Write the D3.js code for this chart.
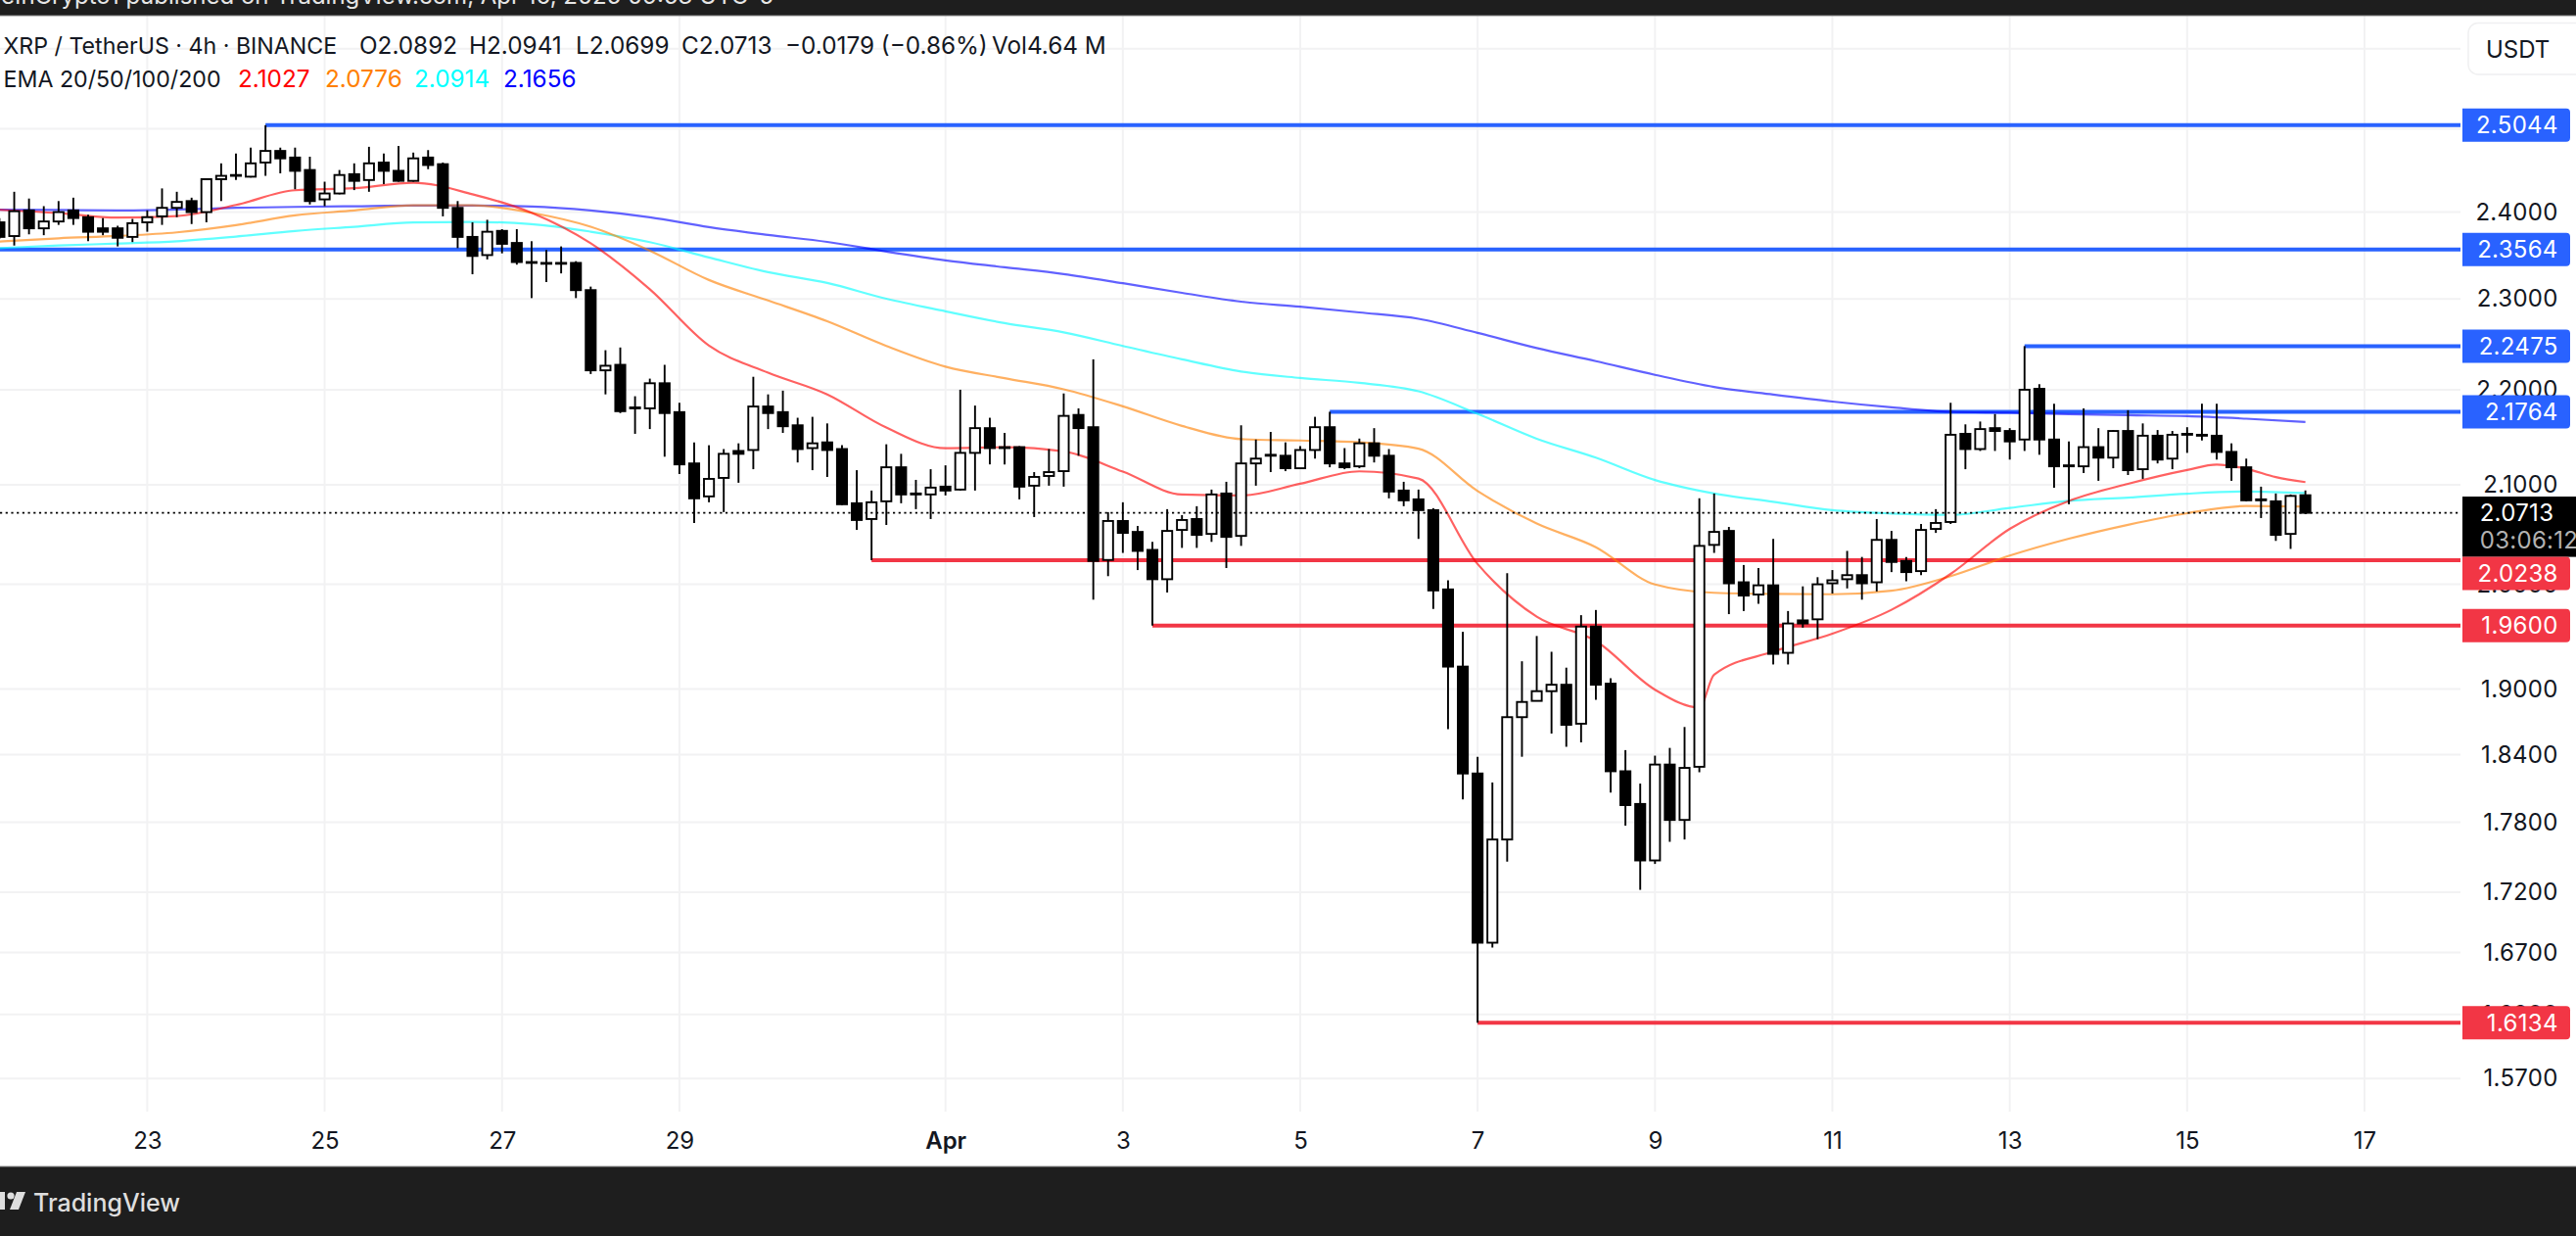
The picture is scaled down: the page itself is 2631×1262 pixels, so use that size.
<!DOCTYPE html>
<html><head><meta charset="utf-8">
<script src="https://cdn.jsdelivr.net/npm/d3@7"></script>
<style>html,body{margin:0;padding:0;background:#fff;overflow:hidden}svg{display:block}text{font-family:Inter,"Noto Sans",sans-serif}</style>
</head><body><div id="c"></div>
<script>
// ---------- data ----------
const firstBar = -10;          // bar index relative to 23 March 00:00 (4h bars)
const open = [2.388,2.372,2.402,2.381,2.389,2.402,2.394,2.381,2.381,2.371,
2.388,2.395,2.405,2.413,2.400,2.439,2.444,2.442,2.459,2.473,
2.465,2.450,2.415,2.422,2.445,2.438,2.459,2.449,2.437,2.465,
2.457,2.405,2.371,2.350,2.378,2.364,2.342,2.341,2.341,2.341,
2.310,2.221,2.227,2.181,2.180,2.207,2.176,2.122,2.088,2.107,
2.135,2.136,2.182,2.176,2.162,2.138,2.144,2.137,2.081,2.065,
2.083,2.118,2.091,2.090,2.098,2.095,2.133,2.159,2.139,2.139,
2.099,2.109,2.114,2.173,2.160,2.024,2.063,2.052,2.034,2.005,
2.054,2.065,2.050,2.091,2.048,2.122,2.131,2.130,2.117,2.136,
2.160,2.122,2.119,2.143,2.130,2.094,2.085,2.074,1.995,1.921,
1.823,1.678,1.765,1.874,1.889,1.898,1.904,1.868,1.959,1.905,
1.825,1.796,1.747,1.831,1.782,1.829,2.039,2.053,2.002,1.990,
1.999,1.934,1.965,1.966,2.001,2.005,2.009,2.002,2.044,2.023,
2.013,2.055,2.062,2.153,2.137,2.159,2.156,2.147,2.201,2.147,
2.120,2.119,2.139,2.128,2.156,2.116,2.151,2.127,2.153,2.152,
2.151,2.134,2.118,2.085,2.083,2.050,2.0892];
const high = [2.393,2.424,2.416,2.407,2.413,2.417,2.397,2.393,2.384,2.392,
2.402,2.428,2.424,2.417,2.440,2.458,2.470,2.477,2.5044,2.477,
2.477,2.466,2.436,2.450,2.458,2.478,2.470,2.479,2.471,2.474,
2.459,2.413,2.388,2.391,2.380,2.380,2.366,2.356,2.360,2.343,
2.314,2.243,2.246,2.193,2.212,2.227,2.186,2.144,2.141,2.137,
2.143,2.214,2.195,2.199,2.170,2.171,2.164,2.141,2.115,2.094,
2.142,2.132,2.105,2.116,2.120,2.200,2.183,2.170,2.154,2.140,
2.113,2.137,2.196,2.180,2.233,2.072,2.082,2.058,2.042,2.075,
2.069,2.078,2.095,2.103,2.162,2.147,2.155,2.144,2.140,2.171,
2.1764,2.138,2.148,2.159,2.137,2.103,2.095,2.076,2.004,1.954,
1.838,1.815,2.011,1.926,1.950,1.935,1.920,1.970,1.975,1.910,
1.844,1.814,1.839,1.846,1.865,2.086,2.091,2.057,2.019,2.016,
2.045,1.974,1.998,2.007,2.014,2.033,2.027,2.065,2.053,2.027,
2.060,2.075,2.186,2.163,2.166,2.174,2.159,2.2475,2.206,2.185,
2.145,2.180,2.159,2.157,2.178,2.164,2.157,2.156,2.160,2.185,
2.185,2.143,2.127,2.098,2.091,2.090,2.0941];
const low = [2.369,2.361,2.374,2.373,2.385,2.385,2.366,2.373,2.360,2.365,
2.377,2.385,2.394,2.386,2.388,2.413,2.438,2.441,2.443,2.446,
2.427,2.409,2.407,2.421,2.426,2.424,2.433,2.436,2.436,2.451,
2.395,2.358,2.328,2.345,2.352,2.339,2.301,2.319,2.329,2.301,
2.217,2.195,2.175,2.153,2.158,2.129,2.111,2.061,2.082,2.072,
2.102,2.116,2.158,2.154,2.123,2.115,2.108,2.079,2.054,2.0238,
2.059,2.081,2.075,2.065,2.089,2.094,2.094,2.121,2.121,2.085,
2.067,2.099,2.098,2.130,1.985,2.008,2.031,2.014,1.960,1.992,
2.036,2.036,2.042,2.016,2.038,2.099,2.113,2.114,2.116,2.127,
2.118,2.116,2.117,2.123,2.086,2.078,2.045,1.976,1.863,1.800,
1.6134,1.674,1.746,1.838,1.889,1.859,1.847,1.851,1.890,1.806,
1.777,1.722,1.744,1.763,1.765,1.824,2.031,1.971,1.974,1.981,
1.923,1.923,1.958,1.947,1.991,1.996,1.985,1.993,2.012,2.003,
2.009,2.051,2.060,2.116,2.135,2.135,2.126,2.135,2.131,2.097,
2.080,2.112,2.104,2.117,2.110,2.106,2.122,2.116,2.133,2.146,
2.126,2.104,2.083,2.066,2.043,2.035,2.0699];
const close = [2.371,2.401,2.381,2.389,2.400,2.393,2.377,2.377,2.370,2.387,
2.394,2.405,2.412,2.400,2.439,2.443,2.443,2.458,2.473,2.464,
2.449,2.413,2.422,2.444,2.437,2.458,2.449,2.437,2.464,2.456,
2.405,2.371,2.349,2.377,2.363,2.342,2.341,2.340,2.340,2.310,
2.221,2.226,2.177,2.180,2.207,2.175,2.121,2.086,2.106,2.132,
2.132,2.182,2.175,2.161,2.137,2.143,2.136,2.080,2.064,2.082,
2.118,2.090,2.090,2.097,2.094,2.133,2.159,2.138,2.138,2.098,
2.108,2.113,2.172,2.159,2.023,2.063,2.051,2.033,2.005,2.053,
2.064,2.049,2.090,2.047,2.122,2.127,2.130,2.117,2.136,2.160,
2.122,2.118,2.143,2.130,2.093,2.084,2.074,1.994,1.921,1.823,
1.678,1.765,1.874,1.888,1.898,1.904,1.867,1.959,1.904,1.825,
1.795,1.747,1.831,1.782,1.828,2.038,2.052,2.001,1.989,1.999,
1.933,1.962,1.962,2.000,2.004,2.009,2.001,2.044,2.022,2.012,
2.054,2.061,2.152,2.137,2.158,2.156,2.145,2.200,2.147,2.119,
2.119,2.139,2.128,2.156,2.115,2.151,2.126,2.152,2.152,2.151,
2.134,2.118,2.084,2.084,2.049,2.0885,2.0713];

const ema20Bars = [-10,-6,-2,2,6,10,14,18,22,26,30,34,38,42,46,50,54,58,62,66,70,74,78,82,86,90,94,98,102,105,106,110,114,118,122,126,130,134,138,140,142,144,146];
const ema20 = [2.4027,2.3988,2.3935,2.3954,2.4084,2.4258,2.4282,2.4348,2.4211,2.3992,2.3636,2.3110,2.2480,2.2185,2.1950,2.1596,2.1379,2.1389,2.1345,2.1135,2.0899,2.0889,2.1010,2.1138,2.1063,2.0200,1.9685,1.9452,1.8994,1.8828,1.9133,1.9352,1.9522,1.9752,2.0102,2.0550,2.0834,2.1009,2.1152,2.1207,2.1165,2.1078,2.1027];
const emaBars = [-10,-6,-2,2,6,10,14,18,22,26,30,34,38,42,46,50,54,58,62,66,70,74,78,82,86,90,94,98,102,106,110,114,118,122,126,130,134,138,142,146];
const ema50 = [2.3656,2.3694,2.3721,2.3763,2.3847,2.3962,2.4019,2.4080,2.4080,2.3992,2.3828,2.3551,2.3215,2.2983,2.2750,2.2477,2.2250,2.2125,2.2005,2.1822,2.1614,2.1474,2.1460,2.1441,2.1374,2.0935,2.0604,2.0367,1.9998,1.9917,1.9906,1.9903,1.9937,2.0080,2.0283,2.0452,2.0592,2.0709,2.0782,2.0776];
const ema100 = [2.3580,2.3610,2.3633,2.3660,2.3714,2.3779,2.3828,2.3878,2.3885,2.3859,2.3771,2.3649,2.3472,2.3304,2.3182,2.3003,2.2862,2.2730,2.2627,2.2477,2.2330,2.2197,2.2127,2.2074,2.1983,2.1742,2.1478,2.1280,2.1048,2.0910,2.0825,2.0740,2.0706,2.0692,2.0762,2.0834,2.0868,2.0908,2.0930,2.0914];
const ema200 = [2.4027,2.4025,2.4019,2.4030,2.4050,2.4061,2.4069,2.4076,2.4076,2.4065,2.4019,2.3939,2.3824,2.3733,2.3652,2.3540,2.3439,2.3360,2.3282,2.3178,2.3069,2.2970,2.2913,2.2849,2.2778,2.2621,2.2454,2.2310,2.2161,2.2030,2.1948,2.1873,2.1811,2.1763,2.1753,2.1738,2.1727,2.1717,2.1690,2.1656];

const levelPrices = [2.5044,2.3564,2.2475,2.1764,2.0238,1.9600,1.6134];
const levelBars   = [8,-10,127,80,49,68,90];
const levelKinds  = ["high","high","high","high","low","low","low"];

const yTicks = [2.6,2.5,2.4,2.3,2.2,2.1,2.0,1.9,1.84,1.78,1.72,1.67,1.62,1.57];
const xTickBars = [0,12,24,36,54,66,78,90,102,114,126,138,150];
const xTickLabels = ["23","25","27","29","Apr","3","5","7","9","11","13","15","17"];
const lastPrice = 2.0713;
const countdown = "03:06:12";
const legendName = "XRP / TetherUS · 4h · BINANCE";
const legendTitle = [["O2.0892",367],["H2.0941",479],["L2.0699",588],["C2.0713",696],["−0.0179 (−0.86%)",802],["Vol4.64 M",1013]];
const emaLegend = [["2.1027",243,"#ff0000"],["2.0776",332,"#ff7f00"],["2.0914",423,"#00ffff"],["2.1656",514,"#0000ff"]];

// ---------- scales ----------
const W = 2631, H = 1262;
const plotRight = 2513, plotTop = 16, plotBottom = 1135, barTop = 16, footerTop = 1191;
const x = d3.scaleLinear().domain([0,150]).range([150.4,2415]);
const y = d3.scaleLog().domain([2.5044,1.57]).range([127.8,1101.2]);
const levelColor = d3.scaleOrdinal(["high","low"],["#2962ff","#f23645"]);
const bars = open.map((o,i)=>({k:firstBar+i,o,h:high[i],l:low[i],c:close[i]}));

const svg = d3.select("#c").append("svg").attr("width",W).attr("height",H).attr("viewBox",`0 0 ${W} ${H}`);
svg.append("rect").attr("width",W).attr("height",H).attr("fill","#fff");
svg.append("defs").append("clipPath").attr("id","plot").append("rect")
  .attr("x",0).attr("y",plotTop).attr("width",plotRight).attr("height",plotBottom-plotTop);

// grid
const grid = svg.append("g").attr("stroke","#f2f2f3").attr("stroke-width",2);
grid.selectAll("line.h").data(yTicks).join("line").attr("class","h")
  .attr("x1",0).attr("x2",plotRight).attr("y1",d=>y(d)).attr("y2",d=>y(d));
grid.selectAll("line.v").data(xTickBars).join("line").attr("class","v")
  .attr("x1",d=>x(d)).attr("x2",d=>x(d)).attr("y1",plotTop).attr("y2",plotBottom);

const chart = svg.append("g").attr("clip-path","url(#plot)");

// horizontal levels
chart.append("g").selectAll("line").data(levelPrices).join("line")
  .attr("x1",(d,i)=>x(levelBars[i])).attr("x2",plotRight)
  .attr("y1",d=>y(d)).attr("y2",d=>y(d))
  .attr("stroke",(d,i)=>levelColor(levelKinds[i])).attr("stroke-width",4);

// EMA lines
const emaLine = d3.line().x(d=>x(d[0])).y(d=>y(d[1])).curve(d3.curveMonotoneX);
[[ema200,emaBars,"#0000ff"],[ema100,emaBars,"#00ffff"],[ema50,emaBars,"#ff7f00"],[ema20,ema20Bars,"#ff0000"]].forEach(([v,b,c])=>{
  chart.append("path").attr("d",emaLine(b.map((k,i)=>[k,v[i]])))
    .attr("fill","none").attr("stroke",c).attr("stroke-width",2.2).attr("stroke-opacity",0.62);
});

// candles
const cg = chart.append("g").selectAll("g").data(bars).join("g");
cg.append("line").attr("x1",d=>x(d.k)).attr("x2",d=>x(d.k)).attr("y1",d=>y(d.h)).attr("y2",d=>y(d.l))
  .attr("stroke","#000").attr("stroke-width",1.9);
cg.append("rect").attr("x",d=>x(d.k)-5.1).attr("width",10.2)
  .attr("y",d=>y(Math.max(d.o,d.c))).attr("height",d=>Math.abs(y(d.o)-y(d.c)))
  .attr("fill",d=>d.c<d.o?"#000":"#fff").attr("stroke","#000").attr("stroke-width",1.9);

// last price dotted line
svg.append("line").attr("x1",0).attr("x2",plotRight).attr("y1",y(lastPrice)).attr("y2",y(lastPrice))
  .attr("stroke","#000").attr("stroke-width",1.8).attr("stroke-dasharray","2.2 3.5");

// axes
const yAxis = d3.axisRight(y).tickValues(yTicks).tickSize(0).tickPadding(0).tickFormat(d3.format(".4f"));
const ya = svg.append("g").attr("transform","translate(2612.7,0)").call(yAxis);
ya.select(".domain").remove();
ya.selectAll("text").attr("text-anchor","end").attr("x",0).attr("font-size",24).attr("fill","#131722")
  .style("font-family",'Inter,"Noto Sans",sans-serif').style("letter-spacing","0.3px");
const xAxis = d3.axisBottom(x).tickValues(xTickBars).tickSize(0).tickPadding(0).tickFormat((d,i)=>xTickLabels[i]);
const xa = svg.append("g").attr("transform","translate(0,1156)").call(xAxis);
xa.select(".domain").remove();
xa.selectAll("text").attr("font-size",24).attr("fill","#131722")
  .style("font-family",'Inter,"Noto Sans",sans-serif')
  .style("font-weight",(d,i)=>xTickLabels[i]==="Apr"?600:400);

// USDT button
svg.append("rect").attr("x",2521).attr("y",23.5).attr("width",120).attr("height",52.5).attr("rx",10)
  .attr("fill","#fff").attr("stroke","#f0f0f1").attr("stroke-width",1.5);
svg.append("text").attr("x",2539).attr("y",58.5).attr("font-size",24).attr("fill","#131722").text("USDT");

// last price label
const lastBox = svg.append("g");
lastBox.append("rect").attr("x",2515).attr("y",507).attr("width",116).attr("height",61.6).attr("fill","#000");
lastBox.append("text").attr("x",2532.7).attr("y",532).attr("font-size",24).attr("fill","#fff").style("letter-spacing","0.3px").text(lastPrice.toFixed(4));
lastBox.append("text").attr("x",2532.7).attr("y",560).attr("font-size",24).attr("fill","#b2b2b2").style("letter-spacing","0.3px").text(countdown);

// level labels
const boxH = 34;
const labels = svg.append("g").selectAll("g").data(levelPrices).join("g")
  .attr("transform",d=>{ const c = y(d); const yc = (c>507-boxH/2 && c<568.6+boxH/2) ? 568.6+boxH/2 : c; return `translate(2515,${yc})`; });
labels.append("path").attr("d",`M0,${-boxH/2}H106a4,4 0 0 1 4,4V${boxH/2-4}a4,4 0 0 1 -4,4H0Z`)
  .attr("fill",(d,i)=>levelColor(levelKinds[i]));
labels.append("text").attr("x",97.7).attr("text-anchor","end").attr("dy","0.36em").attr("font-size",24)
  .attr("fill","#fff").style("letter-spacing","0.3px").text(d=>d.toFixed(4));

// legend
svg.append("text").attr("x",3.5).attr("y",55).attr("font-size",23.2).attr("fill","#131722").text(legendName);
svg.append("g").selectAll("text").data(legendTitle).join("text")
  .attr("x",d=>d[1]).attr("y",55).attr("font-size",24.3).attr("fill","#131722").text(d=>d[0]);
svg.append("text").attr("x",3.5).attr("y",89).attr("font-size",23.2).attr("fill","#131722").text("EMA 20/50/100/200");
svg.append("g").selectAll("text").data(emaLegend).join("text")
  .attr("x",d=>d[1]).attr("y",89).attr("font-size",24.3).attr("fill",d=>d[2]).text(d=>d[0]);

// header and footer bars
svg.append("rect").attr("x",0).attr("y",0).attr("width",W).attr("height",barTop).attr("fill","#1e1e1e");
svg.append("line").attr("x1",0).attr("x2",W).attr("y1",barTop).attr("y2",barTop).attr("stroke","#8a8a8a").attr("stroke-width",1.2);
const hdrClip = svg.select("defs").append("clipPath").attr("id","hdr");
hdrClip.append("rect").attr("width",W).attr("height",barTop-1);
svg.append("text").attr("x",790).attr("y",4).attr("text-anchor","end").attr("font-size",24).attr("fill","#e6e6e6")
  .attr("clip-path","url(#hdr)").text("BeInCrypto1 published on TradingView.com, Apr 16, 2025 09:53 UTC-5");

svg.append("rect").attr("x",0).attr("y",footerTop).attr("width",W).attr("height",H-footerTop).attr("fill","#1e1e1e");
svg.append("line").attr("x1",0).attr("x2",W).attr("y1",footerTop).attr("y2",footerTop).attr("stroke","#8a8a8a").attr("stroke-width",1.2);
const logo = svg.append("g").attr("fill","#dedede");
logo.append("rect").attr("x",-2).attr("y",1217).attr("width",7).attr("height",18);
logo.append("circle").attr("cx",11).attr("cy",1221).attr("r",3.6);
logo.append("path").attr("d","M17,1217H26L19,1235H10Z");
svg.append("text").attr("x",34).attr("y",1237).attr("font-size",25).attr("fill","#dedede").attr("font-weight",500).text("TradingView");
</script></body></html>
